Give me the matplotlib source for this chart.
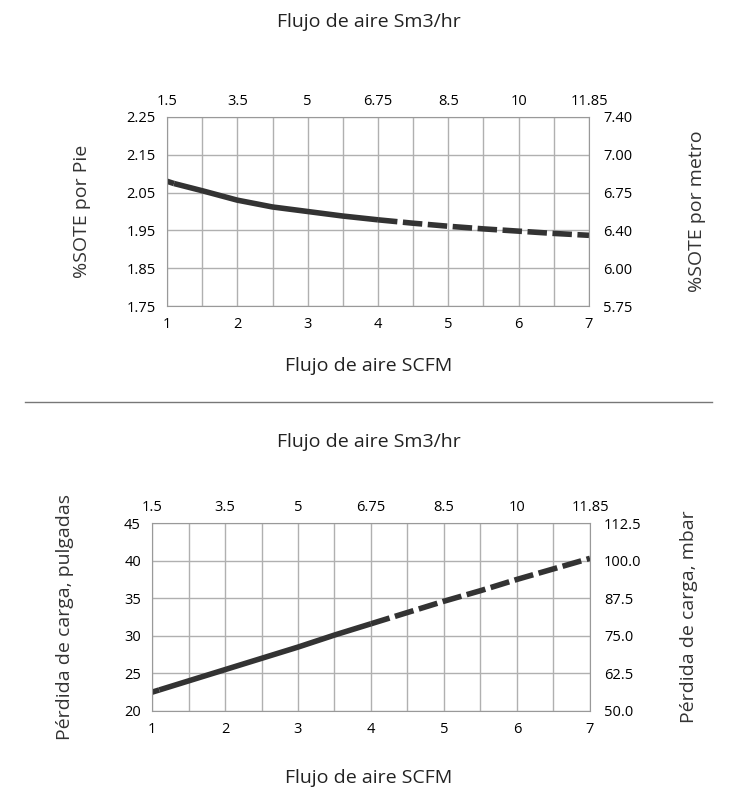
import matplotlib
matplotlib.use('Agg')
import matplotlib.pyplot as plt
import numpy as np

plt.rcParams['font.family'] = 'Open Sans'

# datos
scfm = [1, 1.1, 1.5, 2, 2.5, 3, 3.5, 4, 4.5, 5, 5.5, 6, 6.5, 7]
sote = [2.08, 2.074, 2.055, 2.03, 2.012, 2.0, 1.988, 1.978, 1.969, 1.961, 1.954, 1.948, 1.942, 1.937]
perdida = [22.5, 22.8, 24.0, 25.5, 27.0, 28.5, 30.1, 31.6, 33.1, 34.6, 36.0, 37.5, 38.9, 40.3]

sm3_labels = ['1.5', '3.5', '5', '6.75', '8.5', '10', '11.85']
sote_ticks = [1.75, 1.85, 1.95, 2.05, 2.15, 2.25]
metro_labels = ['5.75', '6.00', '6.40', '6.75', '7.00', '7.40']
pulg_ticks = [20, 25, 30, 35, 40, 45]
mbar_labels = ['50.0', '62.5', '75.0', '87.5', '100.0', '112.5']

W, H = 737, 800
fig = plt.figure(figsize=(W / 100, H / 100), dpi=100)


def panel(l, r, t, b, y, yticks, rlabels, ylab, rlab, title_y, xlab_y, lpad, rpad):
    ax = fig.add_axes([l / W, 1 - b / H, (r - l) / W, (b - t) / H])
    x = np.array(scfm)
    y = np.array(y)
    ax.plot(x[:2], y[:2], color='#333333', lw=4, dashes=(1.8, 0.8), solid_capstyle='butt')
    ax.plot(x[1:8], y[1:8], color='#333333', lw=4, solid_capstyle='butt')
    ax.plot(x[7:], y[7:], color='#333333', lw=4, dashes=(3.5, 1), solid_capstyle='butt')
    ax.set_xlim(1, 7)
    ax.set_ylim(yticks[0], yticks[-1])
    ax.set_xticks(range(1, 8))
    ax.set_xticks(np.arange(1.5, 7, 1), minor=True)
    ax.set_yticks(yticks)
    ax.set_yticklabels([f'{v:.2f}' if isinstance(v, float) else str(v) for v in yticks])
    ax.grid(True, which='both', color='#b0b0b0', lw=1)
    ax.tick_params(which='both', length=0, labelsize=10.5, pad=8)
    for s in ax.spines.values():
        s.set_color('#999999')
    ax.set_ylabel(ylab, fontsize=14, color='#333333', labelpad=lpad)
    axt = ax.twiny()
    axt.set_xlim(1, 7)
    axt.set_xticks(range(1, 8))
    axt.set_xticklabels(sm3_labels)
    axt.tick_params(length=0, labelsize=10.5, pad=6)
    axr = ax.twinx()
    axr.set_ylim(yticks[0], yticks[-1])
    axr.set_yticks(yticks)
    axr.set_yticklabels(rlabels)
    axr.tick_params(length=0, labelsize=10.5, pad=10)
    axr.set_ylabel(rlab, fontsize=14, color='#333333', labelpad=rpad)
    for a in (axt, axr):
        for s in a.spines.values():
            s.set_visible(False)
    fig.text(0.5, 1 - title_y / H, 'Flujo de aire Sm3/hr', ha='center', va='center', fontsize=14, color='#222222')
    fig.text(0.5, 1 - xlab_y / H, 'Flujo de aire SCFM', ha='center', va='center', fontsize=14, color='#222222')


panel(167, 589, 117, 306, sote, sote_ticks, metro_labels, '%SOTE por Pie', '%SOTE por metro', 22, 366, 26, 40)
panel(152, 590, 523, 711, perdida, pulg_ticks, mbar_labels,
      'Pérdida de carga, pulgadas', 'Pérdida de carga, mbar', 442, 778, 36, 28)

fig.add_artist(plt.Line2D([25 / W, 712 / W], [1 - 402 / H, 1 - 402 / H], color='#777777', lw=1))

fig.savefig('out.png', dpi=100, facecolor='white')
